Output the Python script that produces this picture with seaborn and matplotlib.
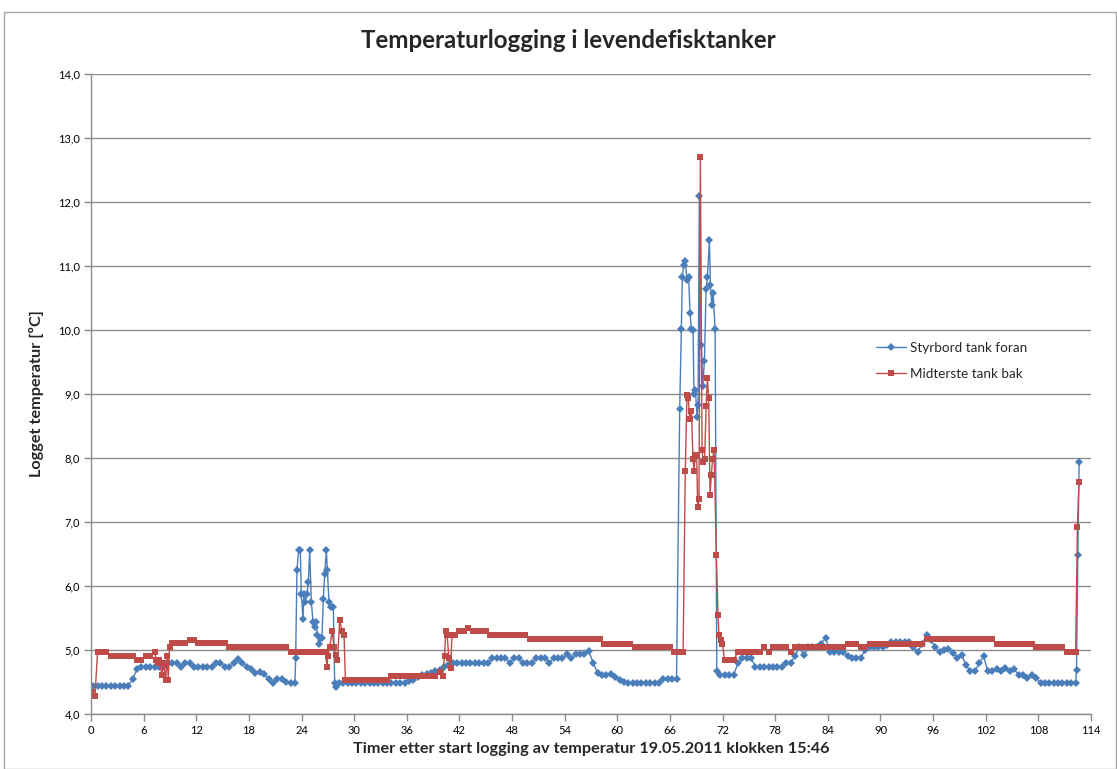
import numpy as np
import pandas as pd
import matplotlib
matplotlib.use("Agg")
import matplotlib.pyplot as plt
from matplotlib.patches import Rectangle
from matplotlib.ticker import FuncFormatter
import seaborn as sns

# ---------------- data (hours after start, logged temperature degC) ----------------
BLUE_NAME = "Styrbord tank foran"
RED_NAME = "Midterste tank bak"

# Styrbord tank foran
blue_flat1_start = 0.25
blue_flat1 = [4.44, 4.44, 4.44, 4.44, 4.44, 4.44, 4.44, 4.44, 4.44, 4.55,
              4.70, 4.74, 4.74, 4.74, 4.74, 4.74, 4.74, 4.80, 4.80, 4.80,
              4.74, 4.80, 4.80, 4.74, 4.74, 4.74, 4.74, 4.74, 4.80, 4.80,
              4.74, 4.74, 4.80, 4.86, 4.80, 4.74, 4.70, 4.64, 4.66, 4.62,
              4.55, 4.48, 4.55, 4.55, 4.50, 4.48, 4.48]
blue_spike1_t = [23.33, 23.48, 23.67, 23.86, 23.98, 24.17, 24.28, 24.43, 24.62, 24.78,
                 24.93, 25.12, 25.31, 25.50, 25.69, 25.80, 25.96, 26.18, 26.33, 26.49,
                 26.64, 26.83, 26.94, 27.13, 27.40, 27.63, 27.78, 27.97]
blue_spike1_v = [4.87, 6.25, 6.56, 6.56, 5.87, 5.48, 5.87, 5.75, 5.87, 6.06,
                 6.56, 5.75, 5.44, 5.36, 5.44, 5.23, 5.10, 5.19, 5.19, 5.80,
                 6.19, 6.56, 6.25, 5.75, 5.67, 5.67, 4.48, 4.42]
blue_flat2_start = 28.25
blue_flat2 = [4.48, 4.48, 4.48, 4.48, 4.48, 4.48, 4.48, 4.48, 4.48, 4.48,
              4.48, 4.48, 4.48, 4.48, 4.48, 4.48, 4.52, 4.53, 4.58, 4.61,
              4.62, 4.64, 4.67, 4.69, 4.74, 4.76, 4.80, 4.80, 4.80, 4.80,
              4.80, 4.80, 4.80, 4.80, 4.80, 4.87, 4.87, 4.87, 4.87, 4.80,
              4.87, 4.87, 4.80, 4.80, 4.80, 4.87, 4.87, 4.87, 4.80, 4.87,
              4.87, 4.87, 4.93, 4.87, 4.93, 4.93, 4.93, 4.98, 4.80, 4.64,
              4.61, 4.61, 4.62, 4.58, 4.53, 4.50, 4.49, 4.49, 4.49, 4.49,
              4.49, 4.49, 4.49, 4.49, 4.55, 4.55, 4.55, 4.55]
blue_spike2_t = [67.11, 67.30, 67.41, 67.56, 67.75, 67.94, 68.13, 68.29, 68.44, 68.63,
                 68.74, 68.90, 69.09, 69.20, 69.35, 69.58, 69.74, 69.93, 70.12, 70.27,
                 70.50, 70.61, 70.77, 70.92, 71.15, 71.34]
blue_spike2_v = [8.76, 10.01, 10.83, 11.02, 11.08, 10.78, 10.83, 10.27, 10.01, 10.00,
                 9.00, 9.07, 8.64, 8.83, 12.09, 9.76, 9.13, 9.51, 10.64, 10.83,
                 11.40, 10.71, 10.39, 10.58, 10.01, 4.67]
blue_flat3_start = 71.75
blue_flat3 = [4.61, 4.61, 4.61, 4.61, 4.79, 4.87, 4.87, 4.87, 4.74, 4.74,
              4.74, 4.74, 4.74, 4.74, 4.74, 4.80, 4.80, 4.90, 5.05, 4.92,
              5.04, 5.04, 5.04, 5.10, 5.19, 4.97, 4.97, 4.97, 4.97, 4.90,
              4.87, 4.87, 4.87, 5.00, 5.05, 5.05, 5.05, 5.04, 5.08, 5.13,
              5.13, 5.13, 5.13, 5.13, 5.05, 4.97, 5.10, 5.23, 5.15, 5.05,
              4.97, 5.00, 5.02, 4.95, 4.87, 4.92, 4.76, 4.67, 4.67, 4.79,
              4.90, 4.67, 4.67, 4.70, 4.67, 4.72, 4.67, 4.70, 4.61, 4.61,
              4.56, 4.61, 4.56, 4.49, 4.49, 4.49, 4.49, 4.49, 4.49, 4.49,
              4.49, 4.49]
blue_end_t = [112.35, 112.50, 112.65]
blue_end_v = [4.68, 6.49, 7.94]

# Midterste tank bak
red_start_t = [0.15, 0.45]
red_start_v = [4.34, 4.28]
red_flat1_start = 0.75
red_flat1 = [4.97, 4.97, 4.97, 4.91, 4.91, 4.91, 4.91, 4.91, 4.91, 4.84,
             4.84, 4.91, 4.91, 4.97]
red_mess1_t = [7.43, 7.60, 7.80, 8.07, 8.30, 8.50, 8.70, 8.80, 8.95]
red_mess1_v = [4.84, 4.80, 4.84, 4.61, 4.80, 4.53, 4.91, 4.53, 5.05]
red_flat2_start = 9.25
red_flat2 = [5.11, 5.11, 5.11, 5.11, 5.16, 5.16, 5.11, 5.11, 5.11, 5.11,
             5.11, 5.11, 5.11, 5.04, 5.04, 5.04, 5.04, 5.04, 5.04, 5.04,
             5.04, 5.04, 5.04, 5.04, 5.04, 5.04, 5.04, 4.97, 4.97, 4.97,
             4.97, 4.97, 4.97, 4.97, 4.97, 4.97]
red_mess2_t = [26.90, 27.00, 27.20, 27.50, 27.70, 27.90, 28.10, 28.35, 28.60, 28.85, 29.00]
red_mess2_v = [4.73, 4.90, 5.04, 5.30, 5.04, 4.92, 4.84, 5.47, 5.30, 5.23, 4.53]
red_flat3_start = 29.25
red_flat3 = [4.53, 4.53, 4.53, 4.53, 4.53, 4.53, 4.53, 4.53, 4.53, 4.53,
             4.60, 4.60, 4.60, 4.60, 4.60, 4.60, 4.60, 4.60, 4.60, 4.60,
             4.60, 4.66]
red_mess3_t = [40.10, 40.30, 40.45, 40.60, 40.80, 41.00, 41.15]
red_mess3_v = [4.60, 4.91, 5.30, 5.23, 4.87, 4.72, 5.23]
red_flat4_start = 41.5
red_flat4 = [5.23, 5.30, 5.30, 5.35, 5.30, 5.30, 5.30, 5.30, 5.23, 5.23,
             5.23, 5.23, 5.23, 5.23, 5.23, 5.23, 5.23, 5.17, 5.17, 5.17,
             5.17, 5.17, 5.17, 5.17, 5.17, 5.17, 5.17, 5.17, 5.17, 5.17,
             5.17, 5.17, 5.17, 5.17, 5.10, 5.10, 5.10, 5.10, 5.10, 5.10,
             5.10, 5.04, 5.04, 5.04, 5.04, 5.04, 5.04, 5.04, 5.04, 5.04,
             4.97, 4.97, 4.97]
red_spike_t = [67.75, 67.94, 68.09, 68.25, 68.44, 68.63, 68.74, 68.90, 69.05, 69.16,
               69.31, 69.47, 69.66, 69.81, 69.96, 70.12, 70.27, 70.42, 70.57, 70.72,
               70.87, 71.03, 71.29, 71.48, 71.59, 71.78, 71.97, 72.24]
red_spike_v = [7.80, 8.99, 8.93, 8.61, 8.74, 7.99, 7.80, 8.05, 8.05, 7.23,
               7.36, 12.70, 8.12, 7.93, 7.99, 8.81, 9.25, 8.93, 7.42, 7.74,
               7.99, 8.12, 6.48, 5.54, 5.23, 5.16, 5.10, 4.84]
red_flat5_start = 72.75
red_flat5 = [4.84, 4.84, 4.97, 4.97, 4.97, 4.97, 4.97, 4.97, 5.04, 4.97,
             5.04, 5.04, 5.04, 5.04, 4.97, 5.04, 5.04, 5.04, 5.04, 5.04,
             5.04, 5.04, 5.04, 5.04, 5.04, 5.04, 5.04, 5.10, 5.10, 5.10,
             5.04, 5.04, 5.10, 5.10, 5.10, 5.10, 5.10, 5.10, 5.10, 5.10,
             5.10, 5.10, 5.10, 5.10, 5.10, 5.17, 5.17, 5.17, 5.17, 5.17,
             5.17, 5.17, 5.17, 5.17, 5.17, 5.17, 5.17, 5.17, 5.17, 5.17,
             5.17, 5.10, 5.10, 5.10, 5.10, 5.10, 5.10, 5.10, 5.10, 5.10,
             5.04, 5.04, 5.04, 5.04, 5.04, 5.04, 5.04, 4.97, 4.97, 4.97]
red_end_t = [112.45, 112.63]
red_end_v = [6.92, 7.62]

x_ticks = list(range(0, 115, 6))
y_ticks = [4, 5, 6, 7, 8, 9, 10, 11, 12, 13, 14]

TITLE = "Temperaturlogging i levendefisktanker"
XLABEL = "Timer etter start logging av temperatur 19.05.2011 klokken 15:46"
YLABEL = "Logget temperatur [ºC]"


def grid_times(start, vals):
    return list(start + 0.5 * np.arange(len(vals)))


blue_t = (grid_times(blue_flat1_start, blue_flat1) + blue_spike1_t
          + grid_times(blue_flat2_start, blue_flat2) + blue_spike2_t
          + grid_times(blue_flat3_start, blue_flat3) + blue_end_t)
blue_v = blue_flat1 + blue_spike1_v + blue_flat2 + blue_spike2_v + blue_flat3 + blue_end_v

red_t = (red_start_t + grid_times(red_flat1_start, red_flat1) + red_mess1_t
         + grid_times(red_flat2_start, red_flat2) + red_mess2_t
         + grid_times(red_flat3_start, red_flat3) + red_mess3_t
         + grid_times(red_flat4_start, red_flat4) + red_spike_t
         + grid_times(red_flat5_start, red_flat5) + red_end_t)
red_v = (red_start_v + red_flat1 + red_mess1_v + red_flat2 + red_mess2_v + red_flat3
         + red_mess3_v + red_flat4 + red_spike_v + red_flat5 + red_end_v)

df_blue = pd.DataFrame({"t": blue_t, "v": blue_v})
df_red = pd.DataFrame({"t": red_t, "v": red_v})

# ---------------- styling ----------------
sns.set_theme(style="white")
plt.rcParams["font.family"] = ["Lato", "DejaVu Sans"]

W, H = 1117, 769
fig = plt.figure(figsize=(W / 100, H / 100), dpi=100)
fig.patch.set_facecolor("white")
ax = fig.add_axes([91 / W, 1 - 714 / H, 1000 / W, 640 / H])

BLUE = "#4a7ebb"
RED = "#be4b48"

sns.lineplot(data=df_blue, x="t", y="v", ax=ax, color=BLUE, linewidth=1.0,
             marker="D", markersize=4.4, markeredgewidth=0, estimator=None,
             sort=False, label=BLUE_NAME)
sns.lineplot(data=df_red, x="t", y="v", ax=ax, color=RED, linewidth=1.0,
             marker="s", markersize=5.0, markeredgewidth=0, estimator=None,
             sort=False, label=RED_NAME)

ax.set_xlim(0, 114)
ax.set_ylim(4, 14)
ax.set_xticks(x_ticks)
ax.set_yticks(y_ticks)
ax.yaxis.set_major_formatter(FuncFormatter(lambda v, p: f"{v:.1f}".replace(".", ",")))
ax.grid(axis="y", color="#8c8c8c", linewidth=1.0)
ax.grid(axis="x", visible=False)
ax.set_axisbelow(True)
for s in ["top", "right"]:
    ax.spines[s].set_visible(False)
for s in ["left", "bottom"]:
    ax.spines[s].set_color("#8c8c8c")
    ax.spines[s].set_linewidth(1.0)
ax.tick_params(axis="both", which="major", direction="out", length=5, width=1,
               color="#8c8c8c", labelsize=8, labelcolor="black", pad=3,
               bottom=True, left=True)

ax.set_xlabel(XLABEL, fontsize=11.7, fontweight="bold", labelpad=4)
ax.set_ylabel(YLABEL, fontsize=11.7, fontweight="bold", labelpad=10)
fig.text(568 / W, 1 - 40 / H, TITLE, ha="center", va="center",
         fontsize=17.4, fontweight="bold")

leg = ax.legend(loc="upper left", bbox_to_anchor=(876 / W, 1 - 342 / H),
                bbox_transform=fig.transFigure, frameon=False, fontsize=9.7,
                handlelength=2.2, handletextpad=0.35, labelspacing=1.05,
                borderaxespad=0, borderpad=0)

fig.add_artist(Rectangle((4 / W, 0.5 / H), (W - 5) / W, (H - 12) / H,
                         transform=fig.transFigure, fill=False,
                         edgecolor="#a6a6a6", linewidth=1.0))

fig.savefig("out.png", dpi=100, facecolor="white")
